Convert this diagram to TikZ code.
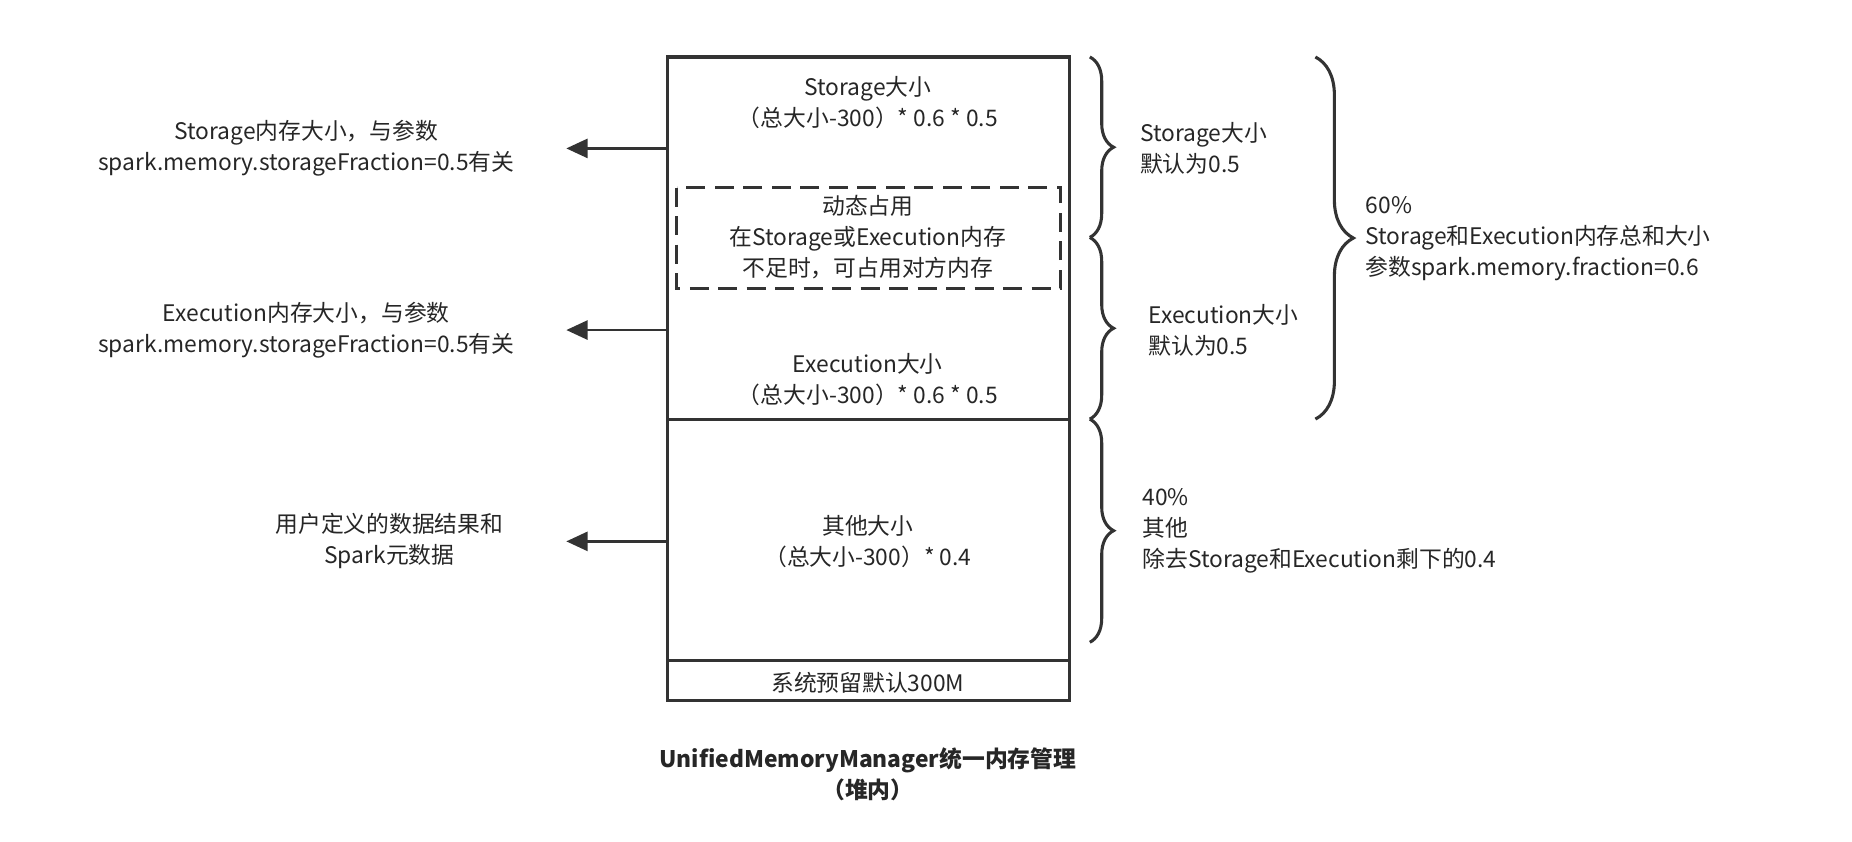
\documentclass[tikz,border=0pt]{standalone}
\usepackage{fontspec}
\setmainfont{Noto Sans CJK SC}
\usetikzlibrary{decorations.pathreplacing,arrows.meta}
\begin{document}
\begin{tikzpicture}[x=0.5pt,y=-0.5pt,
  txt/.style={font=\fontsize{9.6pt}{13pt}\selectfont,align=center,text=black!85,inner sep=0},
  ltxt/.style={txt,align=left,anchor=west},
  arr/.style={-{Triangle[length=9pt,width=8pt]},line width=1.2pt,draw=black!80},
  brc/.style={decorate,decoration={brace,amplitude=10pt},line width=1.3pt,draw=black!80}]
\useasboundingbox (0,0) rectangle (1560,709);
\draw[line width=1.3pt,draw=black!80] (562,48) rectangle (901,590);
\draw[line width=1.3pt,draw=black!80] (562,353) -- (901,353);
\draw[line width=1.3pt,draw=black!80] (562,556) -- (901,556);
\draw[line width=1.3pt,draw=black!80,dash pattern=on 8pt off 4pt] (570,158) rectangle (893,243);
\node[txt] (s) at (731,86) {Storage大小\\（总大小-300）* 0.6 * 0.5};
\node[txt] (d) at (731,200) {动态占用\\在Storage或Execution内存\\不足时，可占用对方内存};
\node[txt] (e) at (731,320) {Execution大小\\（总大小-300）* 0.6 * 0.5};
\node[txt] (o) at (731,456) {其他大小\\（总大小-300）* 0.4};
\node[txt] (r) at (731,575) {系统预留默认300M};
\node[txt,font=\bfseries\fontsize{9.6pt}{13pt}\selectfont] (t) at (731,652) {UnifiedMemoryManager统一内存管理\\（堆内）};
\coordinate (a1) at (562,125); \coordinate (b1) at (477,125);
\coordinate (a2) at (562,278); \coordinate (b2) at (477,278);
\coordinate (a3) at (562,456); \coordinate (b3) at (477,456);
\draw[arr] (a1) -- (b1); \draw[arr] (a2) -- (b2); \draw[arr] (a3) -- (b3);
\node[txt] (l1) at (258,125) {Storage内存大小，与参数\\spark.memory.storageFraction=0.5有关};
\node[txt] (l2) at (258,278) {Execution内存大小，与参数\\spark.memory.storageFraction=0.5有关};
\node[txt] (l3) at (328,456) {用户定义的数据结果和\\Spark元数据};
\coordinate (p1) at (918,48); \coordinate (p2) at (918,200);
\coordinate (p3) at (918,353); \coordinate (p4) at (918,541);
\draw[brc] (p1) -- (p2); \draw[brc] (p2) -- (p3); \draw[brc] (p3) -- (p4);
\coordinate (q1) at (1108,48); \coordinate (q2) at (1108,353);
\draw[brc,decoration={amplitude=16pt}] (q1) -- (q2);
\node[ltxt] (r1) at (960,125) {Storage大小\\默认为0.5};
\node[ltxt] (r2) at (967,278) {Execution大小\\默认为0.5};
\node[ltxt] (r3) at (962,447) {40\%\\其他\\除去Storage和Execution剩下的0.4};
\node[ltxt] (r4) at (1150,201) {60\%\\Storage和Execution内存总和大小\\参数spark.memory.fraction=0.6};
\end{tikzpicture}
\end{document}
